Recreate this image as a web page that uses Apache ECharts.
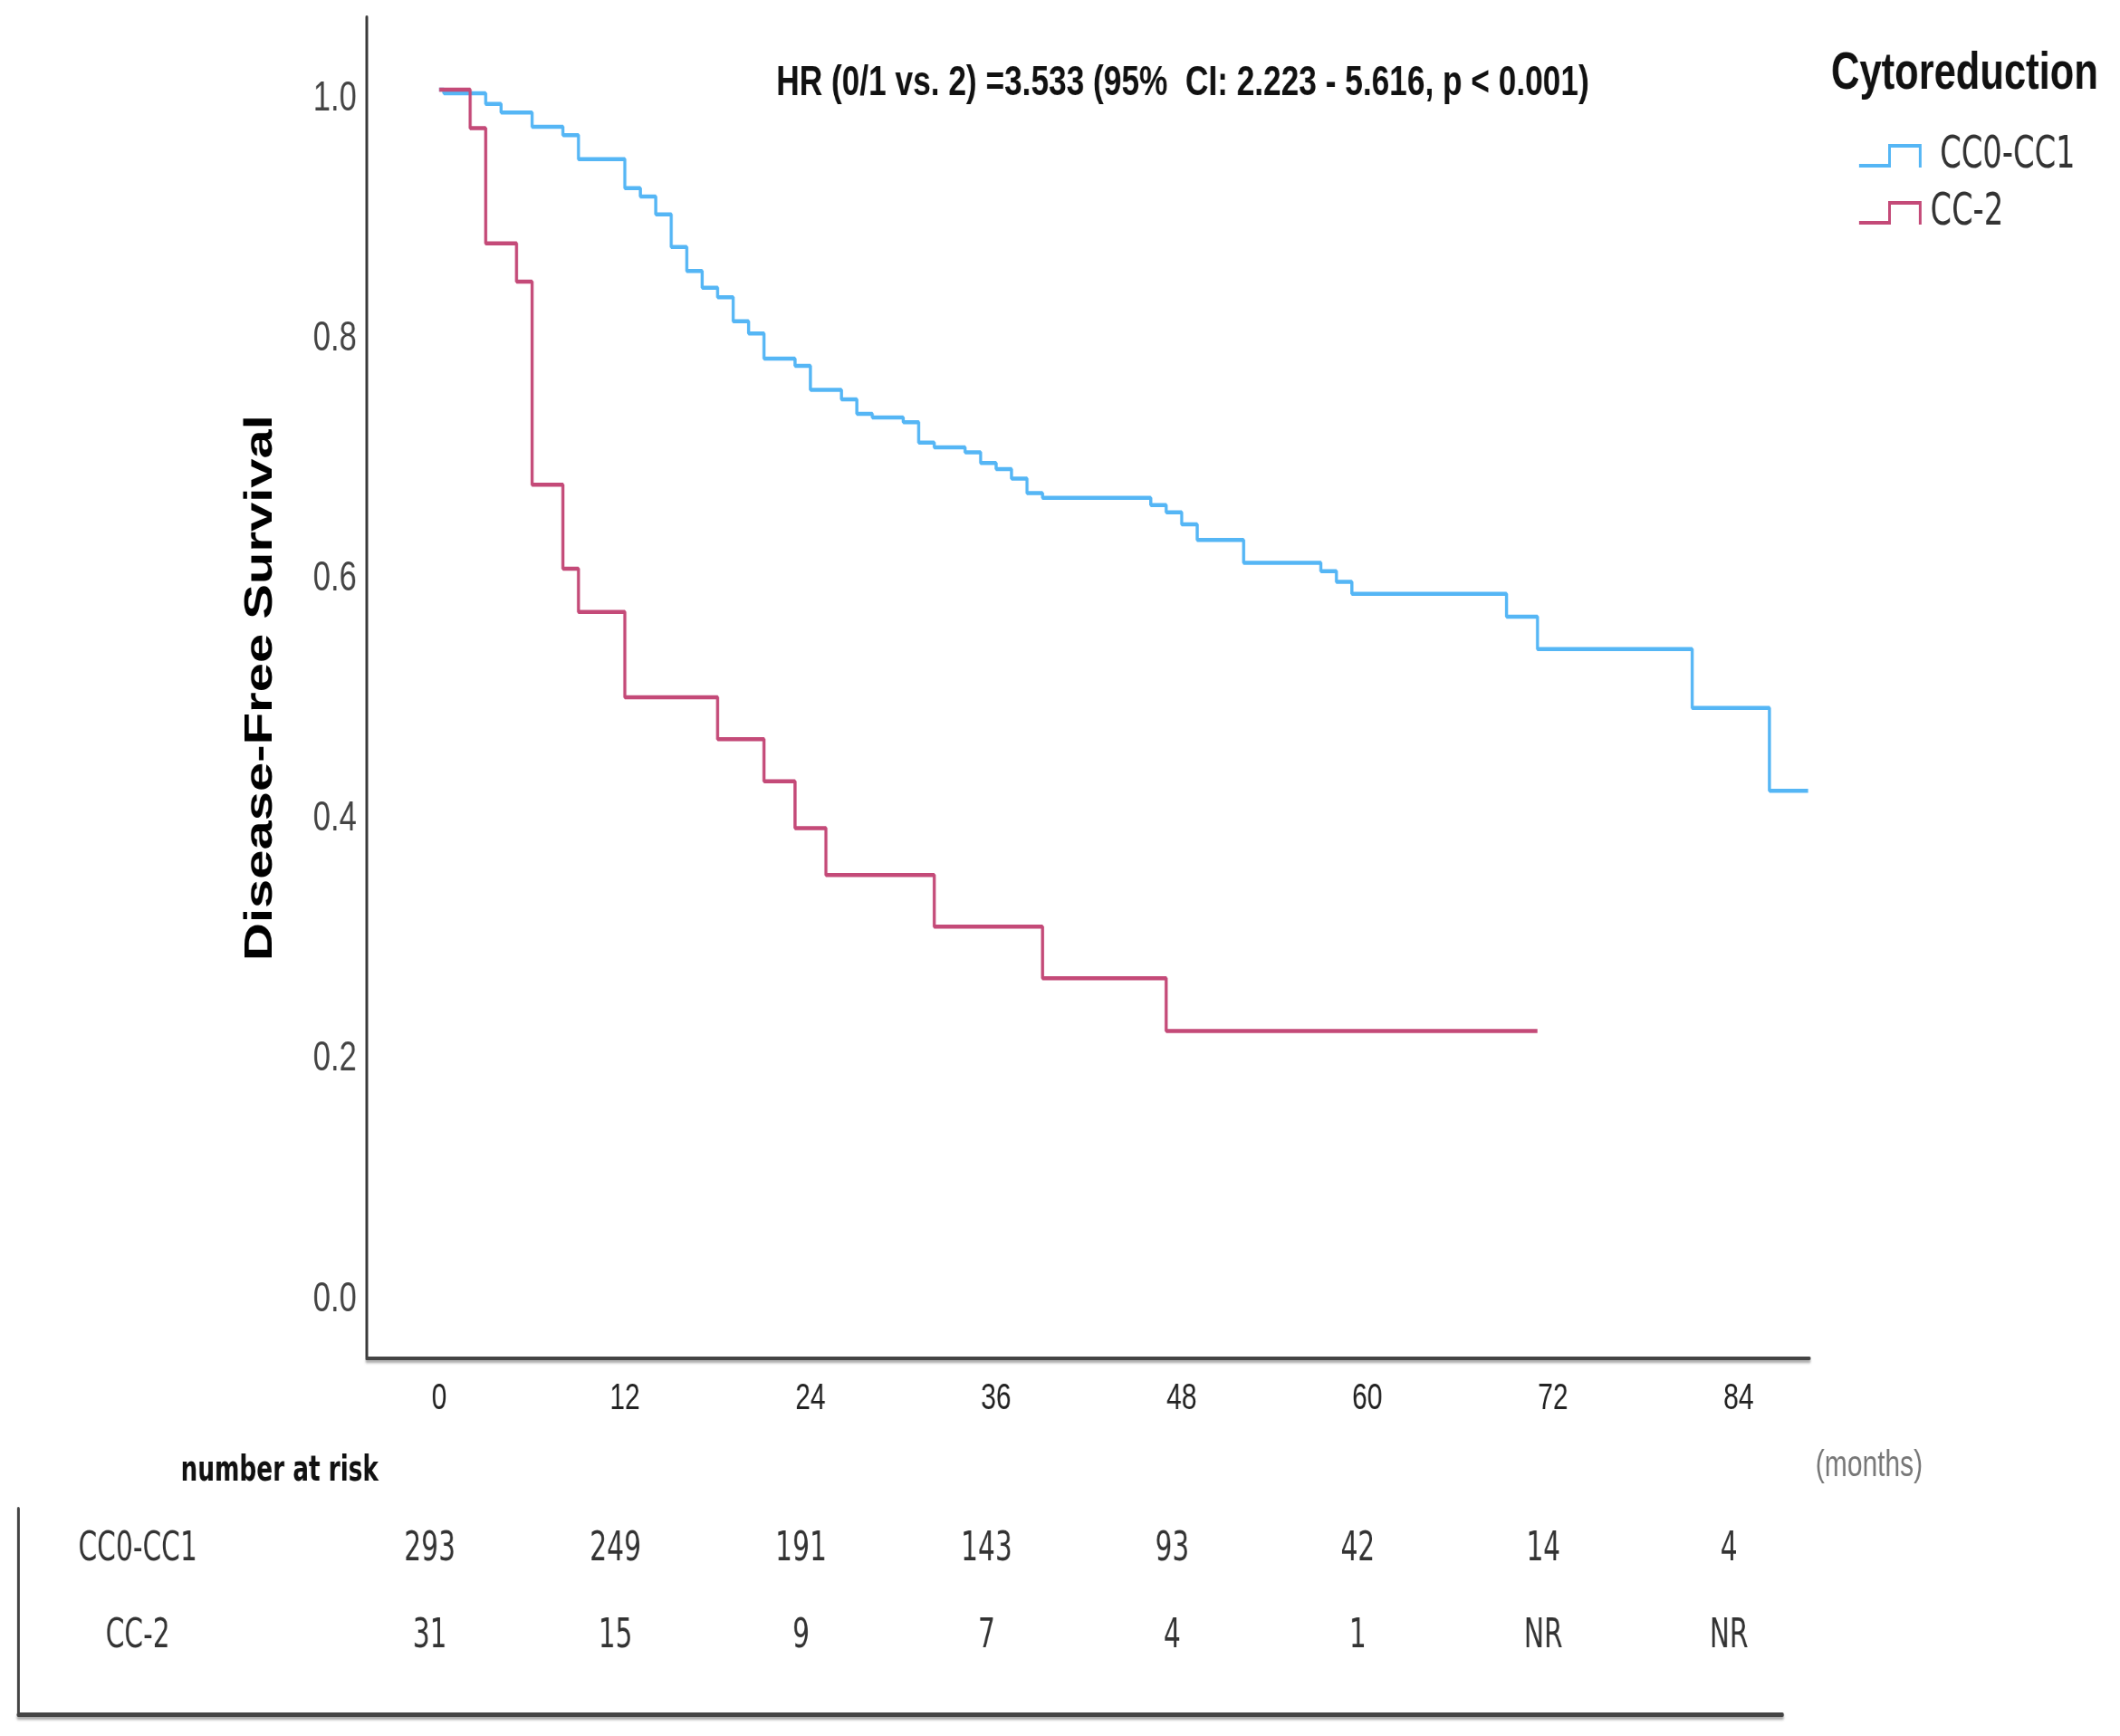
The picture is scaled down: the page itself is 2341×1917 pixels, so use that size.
<!DOCTYPE html>
<html>
<head>
<meta charset="utf-8">
<script src="https://cdn.jsdelivr.net/npm/echarts@6/dist/echarts.min.js"></script>
<style>
html,body{margin:0;padding:0;background:#fff;overflow:hidden;width:2341px;height:1917px;}
#c{width:3122px;height:1917px;transform:scaleX(0.75);transform-origin:0 0;}
</style>
</head>
<body>
<div id="c"></div>
<script>
// ---- data ----
const groupNames = ['CC0-CC1', 'CC-2'];
const cc01Times = [0,0.3,3,4,6,8,9,12,13,14,15,16,17,18,19,20,21,23,24,26,27,28,30,31,32,34,35,36,37,38,39,46,47,48,49,52,57,58,59,69,71,81,86,88.5];
const cc01Surv  = [1.0,0.997,0.988,0.981,0.969,0.962,0.942,0.918,0.911,0.896,0.869,0.849,0.835,0.827,0.807,0.797,0.776,0.770,0.750,0.742,0.730,0.727,0.723,0.706,0.702,0.698,0.689,0.684,0.676,0.664,0.660,0.654,0.648,0.638,0.625,0.606,0.599,0.590,0.580,0.561,0.534,0.485,0.416,0.416];
const cc2Times = [0,2,3,5,6,8,9,12,18,21,23,25,32,39,47,71];
const cc2Surv  = [1.0,0.968,0.872,0.840,0.671,0.601,0.565,0.494,0.459,0.424,0.385,0.346,0.303,0.260,0.216,0.216];
const xTicks = [0,12,24,36,48,60,72,84];
const yTicks = [0,0.2,0.4,0.6,0.8,1.0];
const riskTimes = [0,12,24,36,48,60,72,84];
const riskCC01 = ['293','249','191','143','93','42','14','4'];
const riskCC2  = ['31','15','9','7','4','1','NR','NR'];
const hrText = 'HR (0/1 vs. 2) =3.533 (95%  CI: 2.223 - 5.616, p < 0.001)';

// ---- styles ----
const REG = "'Liberation Sans', Arial, sans-serif";
const NARROW = "'Liberation Sans Narrow', 'Arial Narrow', 'DejaVu Sans Condensed', sans-serif";
const BLUE = '#55b6f5';
const RED = '#c44a78';

const zip = (a, b) => a.map((v, i) => [v, b[i]]);
const rowLabelT = -19.5;
const hidden = {color: 'rgba(0,0,0,0)'};
const riskLabel = {show: true, position: 'inside', offset: [-14, 0], formatter: p => p.value[2],
                   fontFamily: NARROW, fontSize: 44, color: '#000'};

const chart = echarts.init(document.getElementById('c'), null, {renderer: 'canvas'});
const option = {
  animation: false,
  backgroundColor: '#ffffff',
  title: [
    {text: hrText, left: 1143, top: 69, padding: 0,
     textStyle: {fontFamily: REG, fontWeight: 'bold', fontSize: 47, color: '#111'}},
    {text: 'Cytoreduction', left: 2696, top: 53, padding: 0,
     textStyle: {fontFamily: REG, fontWeight: 'bold', fontSize: 58, color: '#111'}},
    {text: 'number at risk', left: 266, top: 1605, padding: 0,
     textStyle: {fontFamily: NARROW, fontWeight: 'bold', fontSize: 39, color: '#111'}},
    {text: '(months)', left: 2673, top: 1599, padding: 0,
     textStyle: {fontFamily: REG, fontWeight: 'normal', fontSize: 40, color: '#777'}}
  ],
  legend: {
    data: groupNames,
    orient: 'vertical',
    left: 2737, top: 147,
    itemWidth: 92, itemHeight: 26, itemGap: 13,
    padding: 0,
    icon: 'path://M0,22 L43,22 L43,0 L92,0 L92,26 L88,26 L88,4 L47,4 L47,26 L0,26 Z',
    itemStyle: {borderWidth: 0},
    formatter: n => (n === groupNames[0] ? ' ' : '') + n,
    textStyle: {fontFamily: NARROW, fontSize: 50, lineHeight: 50, color: '#333', padding: [0, 0, 0, 8]}
  },
  grid: [
    {left: 540, top: 19, width: 2124, height: 1481},
    {left: 27, top: 1666, width: 2597, height: 227}
  ],
  xAxis: [
    {type: 'value', gridIndex: 0, min: -4.684, max: 88.58,
     axisLine: {show: true, onZero: false, lineStyle: {color: '#444', width: 4, shadowColor: 'rgba(0,0,0,0.35)', shadowBlur: 3, shadowOffsetY: 3}},
     axisTick: {show: false}, splitLine: {show: false},
     axisLabel: {customValues: xTicks, margin: 25, fontFamily: REG, fontSize: 40, color: '#222',
                 formatter: v => String(Math.round(v))}},
    {type: 'value', gridIndex: 1, min: -27.22, max: 86.83,
     axisLine: {show: true, onZero: false, lineStyle: {color: '#444', width: 5, shadowColor: 'rgba(0,0,0,0.35)', shadowBlur: 3, shadowOffsetY: 3}},
     axisTick: {show: false}, splitLine: {show: false}, axisLabel: {show: false}}
  ],
  yAxis: [
    {type: 'value', gridIndex: 0, min: -0.0566, max: 1.0603,
     name: 'Disease-Free Survival', nameLocation: 'middle', nameGap: 127,
     nameTextStyle: {fontFamily: REG, fontWeight: 'bold', fontSize: 58, color: '#000'},
     axisLine: {show: true, onZero: false, lineStyle: {color: '#3a3a3a', width: 4}},
     axisTick: {show: false}, splitLine: {show: false},
     axisLabel: {customValues: yTicks, margin: 15, verticalAlign: 'top', lineHeight: 20,
                 fontFamily: REG, fontSize: 46, color: '#444',
                 formatter: v => v.toFixed(1)}},
    {type: 'value', gridIndex: 1, min: 0.521, max: 2.886, inverse: true,
     axisLine: {show: true, onZero: false, lineStyle: {color: '#444', width: 4}},
     axisTick: {show: false}, splitLine: {show: false}, axisLabel: {show: false}}
  ],
  series: [
    {name: groupNames[0], type: 'line', step: 'end', xAxisIndex: 0, yAxisIndex: 0,
     data: zip(cc01Times, cc01Surv), symbol: 'none', color: BLUE,
     lineStyle: {color: BLUE, width: 4.5}},
    {name: groupNames[1], type: 'line', step: 'end', xAxisIndex: 0, yAxisIndex: 0,
     data: zip(cc2Times, cc2Surv), symbol: 'none', color: RED,
     lineStyle: {color: RED, width: 4.5}},
    {type: 'scatter', xAxisIndex: 1, yAxisIndex: 1, symbolSize: 2, itemStyle: hidden, silent: true,
     data: groupNames.map((n, i) => [rowLabelT, i + 1, n]),
     label: Object.assign({}, riskLabel, {offset: [0, 0]})},
    {type: 'scatter', xAxisIndex: 1, yAxisIndex: 1, symbolSize: 2, itemStyle: hidden, silent: true,
     data: riskTimes.map((t, i) => [t, 1, riskCC01[i]]),
     label: riskLabel},
    {type: 'scatter', xAxisIndex: 1, yAxisIndex: 1, symbolSize: 2, itemStyle: hidden, silent: true,
     data: riskTimes.map((t, i) => [t, 2, riskCC2[i]]),
     label: riskLabel}
  ]
};
chart.setOption(option);
</script>
</body>
</html>
